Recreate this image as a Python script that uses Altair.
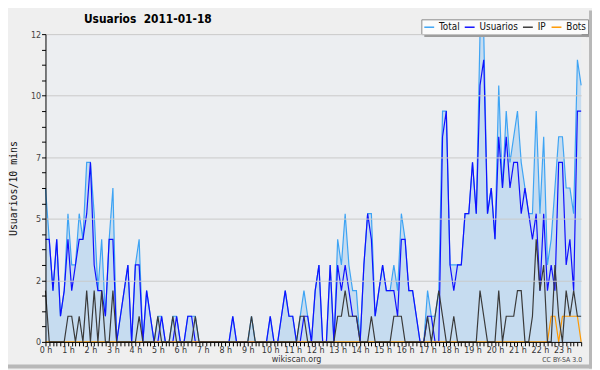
import altair as alt
import pandas as pd

# 10-minute slots of the day (0 = 00:00 ... 143 = 23:50)
slots = list(range(144))

total = [6, 4, 2, 4, 1, 2, 5, 3, 3, 5,
         4, 7, 7, 5, 2, 4, 1, 4, 6, 0,
         1, 2, 3, 0, 3, 4, 0, 2, 1, 0,
         1, 1, 0, 0, 1, 1, 0, 0, 1, 1,
         1, 0, 0, 0, 0, 0, 0, 0, 0, 0,
         1, 0, 0, 0, 0, 1, 0, 0, 0, 0,
         1, 0, 0, 1, 2, 1, 1, 0, 1, 2,
         1, 0, 2, 3, 0, 0, 3, 0, 4, 3,
         5, 3, 2, 2, 0, 3, 5, 5, 1, 2,
         3, 2, 2, 3, 2, 5, 4, 2, 2, 1,
         0, 0, 2, 1, 1, 2, 9, 9, 3, 3,
         3, 3, 5, 5, 7, 5, 12, 12, 5, 6,
         4, 10, 6, 9, 7, 8, 9, 7, 6, 5,
         5, 9, 5, 8, 3, 4, 6, 8, 8, 6,
         6, 5, 11, 10]

usuarios = [4, 4, 2, 4, 1, 2, 4, 2, 3, 4,
            4, 5, 7, 3, 2, 2, 1, 4, 4, 0,
            1, 2, 3, 0, 3, 3, 0, 2, 1, 0,
            0, 1, 0, 0, 0, 1, 0, 0, 1, 1,
            0, 0, 0, 0, 0, 0, 0, 0, 0, 0,
            1, 0, 0, 0, 0, 0, 0, 0, 0, 0,
            1, 0, 0, 1, 2, 1, 1, 0, 0, 1,
            1, 0, 2, 3, 0, 0, 3, 0, 3, 2,
            3, 2, 1, 1, 0, 3, 5, 4, 1, 2,
            3, 2, 2, 2, 1, 4, 4, 2, 2, 1,
            0, 0, 1, 1, 0, 0, 8, 9, 3, 2,
            3, 3, 5, 5, 7, 5, 10, 11, 5, 6,
            4, 8, 6, 8, 6, 7, 7, 5, 6, 5,
            4, 5, 2, 5, 2, 3, 2, 7, 7, 3,
            4, 2, 9, 9]

ip = [2, 0, 0, 0, 0, 0, 1, 1, 0, 1,
      0, 2, 0, 2, 0, 2, 0, 0, 2, 0,
      0, 0, 0, 0, 0, 1, 0, 0, 0, 0,
      1, 0, 0, 0, 1, 0, 0, 0, 0, 0,
      1, 0, 0, 0, 0, 0, 0, 0, 0, 0,
      0, 0, 0, 0, 0, 1, 0, 0, 0, 0,
      0, 0, 0, 0, 0, 0, 0, 0, 1, 1,
      0, 0, 0, 0, 0, 0, 0, 0, 1, 1,
      2, 1, 1, 1, 0, 0, 0, 1, 0, 0,
      0, 0, 0, 1, 1, 1, 0, 0, 0, 0,
      0, 0, 1, 0, 1, 2, 1, 0, 0, 1,
      0, 0, 0, 0, 0, 0, 2, 1, 0, 0,
      0, 2, 0, 1, 1, 1, 2, 2, 0, 0,
      1, 4, 2, 3, 0, 0, 3, 1, 0, 2,
      1, 2, 1, 1]

bots = [0] * 135 + [1, 1, 0, 1, 1, 1, 1, 1, 0]

series_names = ["Total", "Usuarios", "IP", "Bots"]
series_colors = ["#3ea4f4", "#1010ff", "#3a3a3a", "#ff9900"]

y_ticks = [0, 0.6, 1.2, 1.8, 2.4, 3.0, 3.6, 4.2, 4.8, 5.4, 6.0,
           6.6, 7.2, 7.8, 8.4, 9.0, 9.6, 10.2, 10.8, 11.4, 12]

title_text = "Usuarios\u00a0\u00a02011-01-18"
license_text = "CC BY-SA 3.0"

FONT = "DejaVu Sans Condensed, DejaVu Sans"

wide = pd.DataFrame({"slot": slots, "Total": total, "Usuarios": usuarios,
                     "IP": ip, "Bots": bots})
long = wide.melt(id_vars="slot", var_name="serie", value_name="v")

x_axis = alt.Axis(values=slots,
                  labelExpr="datum.value % 6 == 0 ? (datum.value / 6) + ' h' : ''",
                  labelOverlap=False, labelFlush=False,
                  tickSize=4, labelPadding=0, grid=False,
                  domainColor="#000", tickColor="#000",
                  labelFont=FONT, labelFontSize=9, labelColor="#333",
                  title="wikiscan.org", titleFont=FONT,
                  titleFontSize=9, titleFontWeight="normal",
                  titleColor="#333", titleX=254, titleY=17,
                  titleBaseline="middle", titleAnchor="start",
                  titleAlign="center", zindex=1)

label_test = "abs(datum.value / 2.4 - round(datum.value / 2.4)) < 0.001"
y_axis = alt.Axis(values=y_ticks,
                  labelExpr=label_test + " ? format(round(datum.value), 'd') : ''",
                  labelOverlap=False, tickSize=4, labelPadding=1,
                  grid=True,
                  gridColor={"condition": {"test": label_test + " && datum.value > 0",
                                           "value": "#c9c9c9"},
                             "value": "transparent"},
                  domainColor="#000", tickColor="#000",
                  labelFont=FONT, labelFontSize=9, labelColor="#444",
                  title="Usuarios/10 mins", titleFont="DejaVu Sans Mono",
                  titleFontSize=10, titleFontWeight="normal",
                  titleColor="#111", titleX=-32, titleY=156,
                  titleBaseline="middle", titleAlign="center", zindex=1)

x_scale = alt.Scale(domain=[0, 143], nice=False, zero=False)
y_scale = alt.Scale(domain=[0, 12], nice=False)

color_scale = alt.Scale(domain=series_names, range=series_colors)
legend = alt.Legend(orient="none", legendX=381, legendY=-15,
                    direction="horizontal", title=None,
                    fillColor="#fbfbfb", strokeColor="#8a8a8a",
                    padding=2, symbolType="stroke", symbolSize=100,
                    symbolStrokeWidth=1.5, labelFont=FONT, labelFontSize=10,
                    labelColor="#111", columnPadding=2, labelOffset=4)

area = alt.Chart(wide).mark_area(color="#c6dcf0", opacity=1).encode(
    x=alt.X("slot:Q", scale=x_scale, axis=x_axis),
    y=alt.Y("Total:Q", scale=y_scale, axis=y_axis))

layers = [area]
for name in ["Total", "Usuarios", "Bots", "IP"]:
    layers.append(
        alt.Chart(long).transform_filter(alt.datum.serie == name)
        .mark_line(strokeWidth=1.2, interpolate="linear")
        .encode(x=alt.X("slot:Q", scale=x_scale, axis=x_axis),
                y=alt.Y("v:Q", scale=y_scale, axis=y_axis),
                color=alt.Color("serie:N", scale=color_scale, legend=legend))
    )

title_df = pd.DataFrame({"t": [title_text]})
title_txt = alt.Chart(title_df).mark_text(
    align="left", baseline="alphabetic", fontSize=12, fontWeight="bold",
    font=FONT, color="#000"
).encode(x=alt.value(39), y=alt.value(-11), text="t:N")

license_df = pd.DataFrame({"t": [license_text]})
license_txt = alt.Chart(license_df).mark_text(
    align="right", baseline="middle", fontSize=7, font=FONT, color="#444"
).encode(x=alt.value(544), y=alt.value(330), text="t:N")

deco_df = pd.DataFrame({"a": [0]})
shadow_b = alt.Chart(deco_df).mark_rect(color="#9c9c9c").encode(
    x=alt.value(384), x2=alt.value(551), y=alt.value(0), y2=alt.value(3))
shadow_r = alt.Chart(deco_df).mark_rect(color="#9c9c9c").encode(
    x=alt.value(548), x2=alt.value(551), y=alt.value(-12), y2=alt.value(3))
border_r = alt.Chart(deco_df).mark_rect(color="#b8b8b8").encode(
    x=alt.value(551), x2=alt.value(554), y=alt.value(-24), y2=alt.value(339))
border_b = alt.Chart(deco_df).mark_rect(color="#b8b8b8").encode(
    x=alt.value(-38), x2=alt.value(554), y=alt.value(335), y2=alt.value(339))

chart = alt.layer(*layers, title_txt, license_txt, shadow_b, shadow_r,
                  border_r, border_b).properties(
    width=543, height=312,
    padding={"left": 38, "top": 24, "right": 11, "bottom": 27},
    autosize=alt.AutoSizeParams(type="none"),
    background="#efefef",
).configure_view(fill="#eceef1", stroke=None)

chart.save("out.html", embed_options={"renderer": "svg", "actions": False})
